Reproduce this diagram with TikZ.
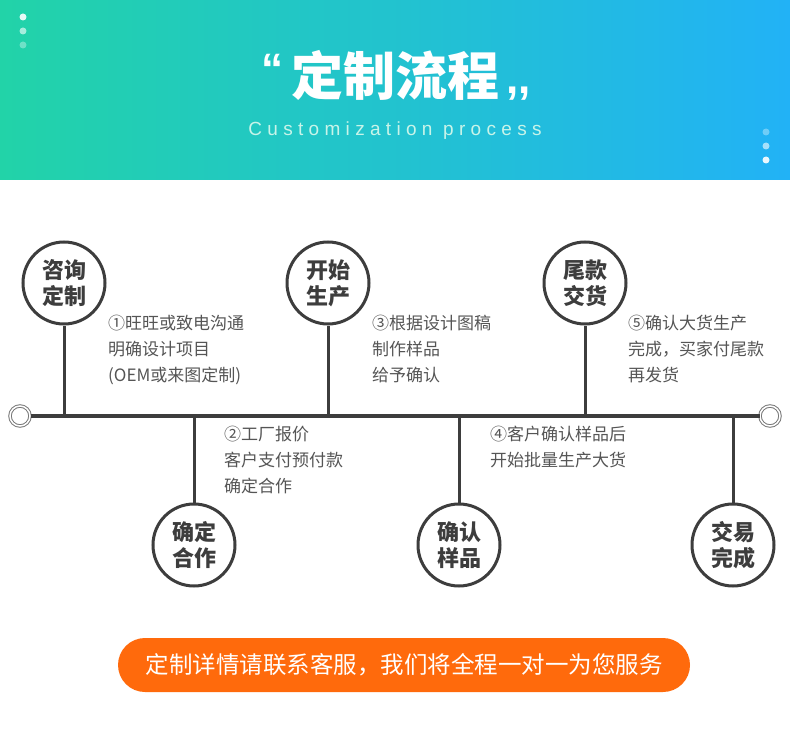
\documentclass[tikz,border=0pt]{standalone}
\usepackage{fontspec}
\setmainfont{Noto Sans CJK SC}
\newfontfamily\latin{Liberation Sans}
\usetikzlibrary{positioning}
\definecolor{ink}{HTML}{3D3D3D}
\definecolor{note}{HTML}{555555}
\definecolor{tealA}{HTML}{22D3A8}
\definecolor{blueB}{HTML}{22B2F6}
\definecolor{btn}{HTML}{FF6A0C}
\tikzset{step circ/.style={circle,draw=ink,line width=3pt,fill=white,minimum size=82pt,
  inner sep=0pt,align=center,font=\fontsize{22}{26}\selectfont\bfseries,text=ink},
  desc/.style={anchor=north west,align=left,inner sep=0pt,text=note,
  font=\fontsize{17}{26}\selectfont},
  bar/.style={ink,line width=4.5pt},
  stem/.style={ink,line width=3pt},
  endring/.style={circle,draw=ink!70,line width=1pt,fill=white,minimum size=20pt,inner sep=0pt,
  double,double distance=1.5pt}}
\begin{document}
\begin{tikzpicture}[x=1pt,y=-1pt]
\useasboundingbox (0,0) rectangle (790,754);
\fill[white] (0,0) rectangle (790,754);
% header
\shade[left color=tealA,right color=blueB] (0,0) rectangle (790,180);
\node (title) at (395,75) {\fontsize{52}{52}\selectfont\bfseries\color{white}定制流程};
\node[left=0pt of title.north west,anchor=north east,yshift=-4pt] (lq) {\latin\fontsize{44}{44}\selectfont\bfseries\color{white}“};
\node[right=0pt of title.south east,anchor=south west,yshift=0pt] (rq) {\latin\fontsize{44}{44}\selectfont\bfseries\color{white},,};
\node (sub) at (395,131) {\latin\fontsize{19}{19}\selectfont\addfontfeature{LetterSpace=28}\color{white!75!tealA}Customization process};
\foreach \y/\o in {17/90,31/60,45/35} \fill[white,opacity=\o/100] (23,\y) circle (3.5);
\foreach \y/\o in {132/35,146/60,160/90} \fill[white,opacity=\o/100] (766,\y) circle (3.5);
% timeline
\node[endring] (lend) at (20,416) {};
\node[endring] (rend) at (770,416) {};
\draw[bar] (lend) -- (rend);
\node[step circ] (s1) at (64,283) {咨询\\定制};
\node[step circ] (s3) at (328,283) {开始\\生产};
\node[step circ] (s5) at (585,283) {尾款\\交货};
\node[step circ] (s2) at (194,545) {确定\\合作};
\node[step circ] (s4) at (459,545) {确认\\样品};
\node[step circ] (s6) at (733,545) {交易\\完成};
\foreach \s in {s1,s3,s5} \draw[stem] (\s.south) -- (\s.south |- lend);
\foreach \s in {s2,s4,s6} \draw[stem] (\s.north) -- (\s.north |- lend);
\node[desc] (d1) at (108,315) {①旺旺或致电沟通\\明确设计项目\\(OEM或来图定制)};
\node[desc] (d3) at (372,315) {③根据设计图稿\\制作样品\\给予确认};
\node[desc] (d5) at (628,315) {⑤确认大货生产\\完成，买家付尾款\\再发货};
\node[desc] (d2) at (224,426) {②工厂报价\\客户支付预付款\\确定合作};
\node[desc] (d4) at (490,426) {④客户确认样品后\\开始批量生产大货};
% button
\node[fill=btn,rounded corners=27pt,minimum width=572pt,minimum height=54pt,text=white,
  font=\fontsize{23.5}{24}\selectfont] (cta) at (404,665) {定制详情请联系客服，我们将全程一对一为您服务};
\end{tikzpicture}
\end{document}
